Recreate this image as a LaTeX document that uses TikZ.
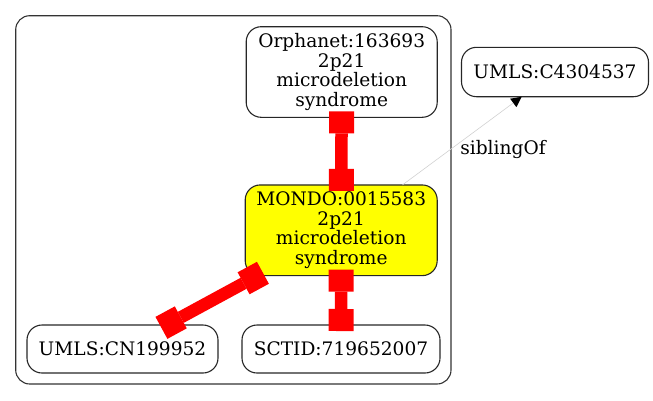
\documentclass[tikz,border=0pt]{standalone}
\usepackage{fontspec}
\setmainfont{DejaVu Serif}
\usetikzlibrary{arrows.meta}
\definecolor{gvyellow}{RGB}{255,255,0}
\definecolor{gvred}{RGB}{255,0,0}
\begin{document}
\begin{tikzpicture}[x=1pt,y=-1pt,
  every node/.style={font=\fontsize{18.6}{19.6}\selectfont, align=center, inner sep=0pt, outer sep=0pt},
  termbox/.style={draw=black!85, line width=1.1pt, rounded corners=15pt},
  redge/.style={draw=gvred, line width=12.5pt,
    {Square[length=22pt,width=25pt,line width=0pt]}-{Square[length=22pt,width=25pt,line width=0pt]},
    shorten <=-6pt, shorten >=-6pt},
  sib/.style={draw=black!18, line width=0.6pt, -{Triangle[length=10.5pt,width=10.5pt,black,line width=0pt]}},
  cluster/.style={draw=black!80, line width=1.1pt, rounded corners=14pt}
]
\useasboundingbox (0,0) rectangle (653,400);
\draw[cluster] (15.7,15.7) rectangle (451,384);

\node[termbox, minimum width=191pt, minimum height=90.6pt] (orph) at (341.7,72) {Orphanet:163693\\2p21\\microdeletion\\syndrome};
\node[termbox, minimum width=187pt, minimum height=49.4pt] (umls) at (555,72) {UMLS:C4304537};
\node[termbox, fill=gvyellow, minimum width=192pt, minimum height=90.7pt] (mondo) at (341.2,230.3) {MONDO:0015583\\2p21\\microdeletion\\syndrome};
\node[termbox, minimum width=191pt, minimum height=48pt] (cn) at (122.5,349) {UMLS:CN199952};
\node[termbox, minimum width=198pt, minimum height=48pt] (sct) at (341,349) {SCTID:719652007};

\draw[redge] (orph) -- (mondo);
\draw[redge] (mondo) -- (cn);
\draw[redge] (mondo) -- (sct);
\draw[sib] (mondo) -- (umls);
\node (sibl) at (503,149.5) {siblingOf};
\end{tikzpicture}
\end{document}
